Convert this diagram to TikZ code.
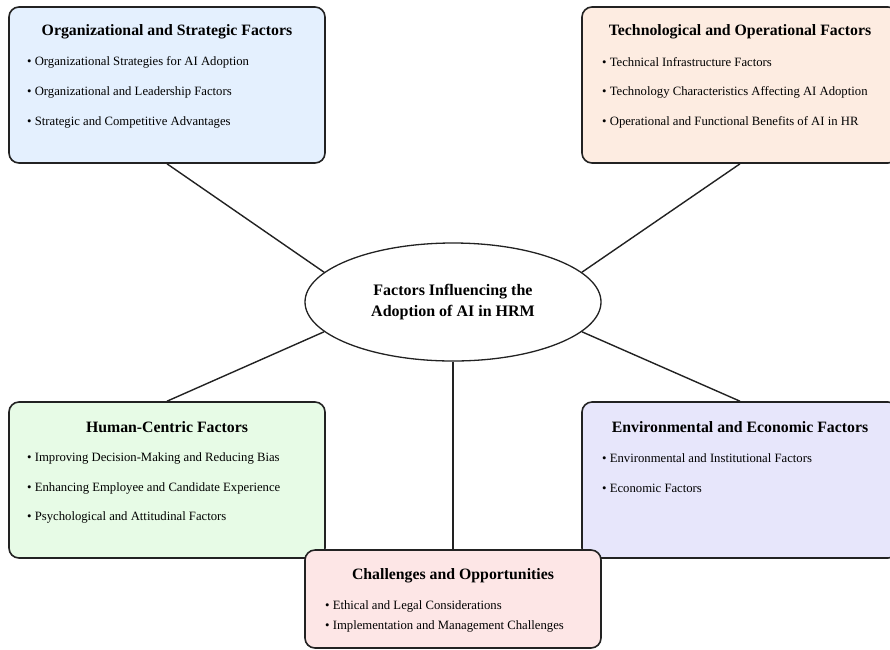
\documentclass[tikz,border=0pt]{standalone}
\usepackage{fontspec}
\setmainfont{Liberation Serif}
\usetikzlibrary{shapes.geometric}

\definecolor{orgfill}{HTML}{E4F0FE}
\definecolor{techfill}{HTML}{FDECE1}
\definecolor{humfill}{HTML}{E7FBE6}
\definecolor{envfill}{HTML}{E7E6FB}
\definecolor{chalfill}{HTML}{FDE6E6}
\definecolor{edge}{HTML}{222222}

\begin{document}
\begin{tikzpicture}[x=1pt,y=-1pt]

\tikzstyle{box}=[draw=edge, line width=1.6pt, rounded corners=10pt, minimum width=316pt, minimum height=156pt, inner sep=0pt]
\tikzstyle{title}=[font=\fontsize{15.8}{18}\selectfont\bfseries, inner sep=0pt]
\tikzstyle{item}=[font=\fontsize{12.7}{15}\selectfont, anchor=west, inner sep=0pt]
\tikzstyle{hubnode}=[ellipse, draw=edge, line width=1.3pt, fill=white, minimum width=296pt, minimum height=118pt, inner sep=0pt, align=center, font=\fontsize{16}{21}\selectfont\bfseries]
\tikzstyle{link}=[draw=edge, line width=1.4pt]

\useasboundingbox[fill=white] (0,0) rectangle (890,649);

% centre
\node [hubnode] (hub) at (453,302) {Factors Influencing the\\Adoption of AI in HRM};

% top row
\node [box, fill=orgfill] (org) at (167,85) {};
\node [title] (org_title) at (167,32) {Organizational and Strategic Factors};
\node [item] (org1) at (27,62) {• Organizational Strategies for AI Adoption};
\node [item] (org2) at (27,92) {• Organizational and Leadership Factors};
\node [item] (org3) at (27,122) {• Strategic and Competitive Advantages};

\node [box, fill=techfill] (tech) at (740,85) {};
\node [title] (tech_title) at (740,32) {Technological and Operational Factors};
\node [item] (tech1) at (602,62) {• Technical Infrastructure Factors};
\node [item] (tech2) at (602,92) {• Technology Characteristics Affecting AI Adoption};
\node [item] (tech3) at (602,122) {• Operational and Functional Benefits of AI in HR};

% bottom row
\node [box, fill=humfill] (hum) at (167,480) {};
\node [title] (hum_title) at (167,427) {Human-Centric Factors};
\node [item] (hum1) at (27,458) {• Improving Decision-Making and Reducing Bias};
\node [item] (hum2) at (27,488) {• Enhancing Employee and Candidate Experience};
\node [item] (hum3) at (27,517) {• Psychological and Attitudinal Factors};

\node [box, fill=envfill] (env) at (740,480) {};
\node [title] (env_title) at (740,427) {Environmental and Economic Factors};
\node [item] (env1) at (602,458) {• Environmental and Institutional Factors};
\node [item] (env2) at (602,488) {• Economic Factors};

\node [box, fill=chalfill, minimum width=296pt, minimum height=98pt] (chal) at (453,599) {};
\node [title] (chal_title) at (453,576) {Challenges and Opportunities};
\node [item] (chal1) at (325,606) {• Ethical and Legal Considerations};
\node [item] (chal2) at (325,626) {• Implementation and Management Challenges};

\draw[link] (org.south) -- (hub.167);
\draw[link] (tech.south) -- (hub.13);
\draw[link] (hum.north) -- (hub.193);
\draw[link] (env.north) -- (hub.347);
\draw[link] (hub.south) -- (chal.north);

\end{tikzpicture}
\end{document}
